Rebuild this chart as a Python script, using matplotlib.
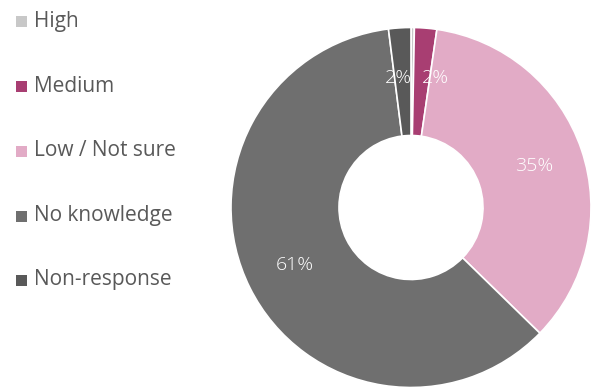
import matplotlib
matplotlib.use("Agg")
import matplotlib.pyplot as plt
from matplotlib.patches import Rectangle
import numpy as np

categories = ["High", "Medium", "Low / Not sure", "No knowledge", "Non-response"]
values = [0.3, 2.0, 35.0, 60.7, 2.0]
labels = ["", "2%", "35%", "61%", "2%"]
colors = ["#c8c8c8", "#a83e72", "#e2abc6", "#6f6f6f", "#595959"]

W, H = 594, 389
fig = plt.figure(figsize=(W / 100, H / 100), dpi=100)
plt.rcParams['font.family'] = ['Open Sans', 'DejaVu Sans']

# pie axes: center (411, 207.5), radius 180 px
cx, cy, r = 411, 207.5, 180
ax = fig.add_axes([(cx - r) / W, (H - cy - r) / H, 2 * r / W, 2 * r / H])
wedges, _ = ax.pie(values, colors=colors, startangle=90, counterclock=False,
                   radius=1.0, wedgeprops=dict(width=0.6, edgecolor="white", linewidth=1.2))
rr = 0.72
for i, (w, lab) in enumerate(zip(wedges, labels)):
    if not lab:
        continue
    ang = np.deg2rad((w.theta1 + w.theta2) / 2)
    x, y = rr * np.cos(ang), rr * np.sin(ang)
    ha = "center"
    if i == 1:
        ha = "left"
    elif i == len(labels) - 1:
        ha = "right"
        x = 0.005
    ax.text(x, y, lab, ha=ha, va="center", color="white", fontsize=14, fontweight="light")
ax.set_xlim(-1, 1)
ax.set_ylim(-1, 1)
ax.set_aspect("equal")
ax.axis("off")

# legend
ys = [21, 86, 151, 216, 280]
for cat, col, y in zip(categories, colors, ys):
    fig.patches.append(Rectangle((16 / W, (H - y - 5.5) / H), 11 / W, 11 / H,
                                 transform=fig.transFigure, facecolor=col, edgecolor="none"))
    fig.text(34 / W, (H - y) / H, cat, ha="left", va="center", fontsize=15, color="#595959")

fig.savefig("out.png", dpi=100)
